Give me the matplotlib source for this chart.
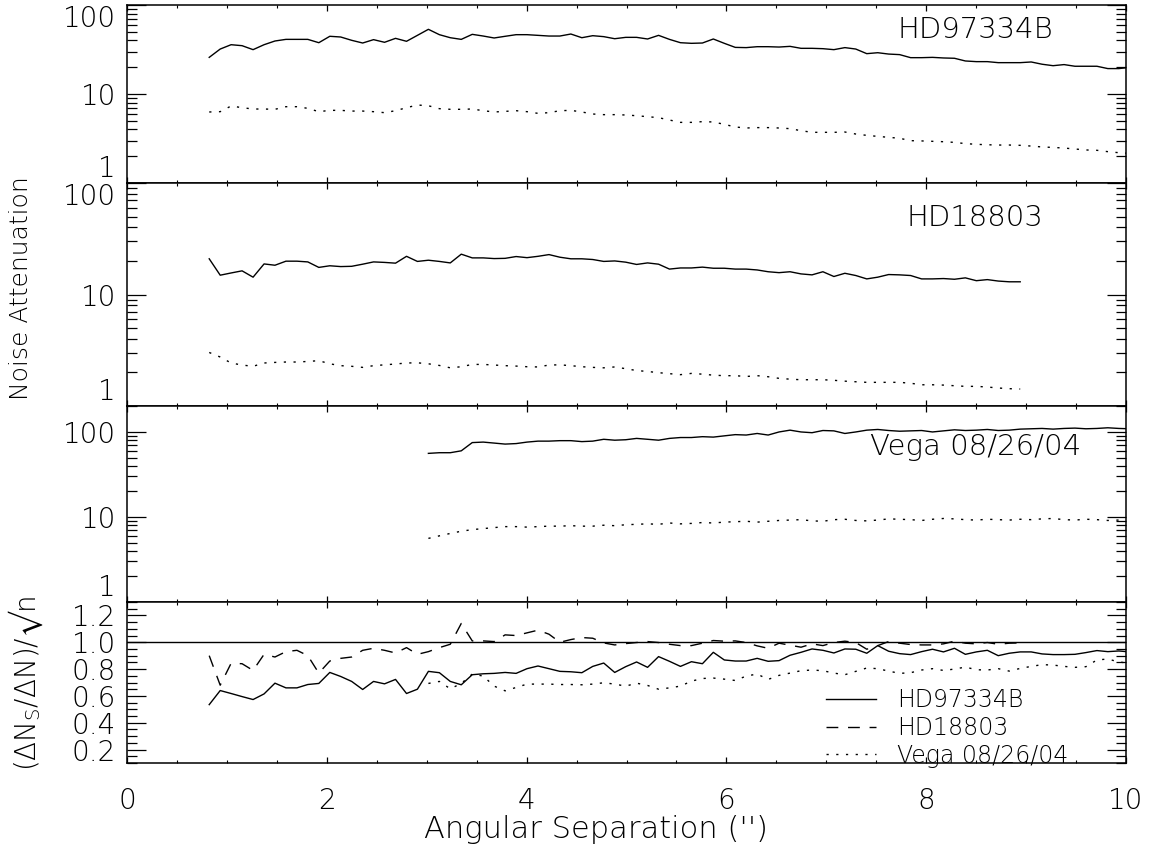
import numpy as np
import matplotlib
matplotlib.use("Agg")
import matplotlib.pyplot as plt
from matplotlib.ticker import FixedLocator, MultipleLocator, LogLocator, NullFormatter

# ---------------- data ----------------
sep_start = 0.823      # first angular separation (arcsec)
sep_step = 0.1097      # sampling step (arcsec)
n_sep = 85
sep = np.round(sep_start + sep_step * np.arange(n_sep), 3)

# HD97334B (85 points)
hd97334b_upper = [25.8, 32.0, 35.8, 34.9, 31.5, 35.8, 39.4, 41.1, 41.1, 41.1,
                  37.7, 44.5, 43.7, 40.1, 37.4, 40.8, 38.1, 42.2, 39.1, 45.6,
                  53.3, 46.4, 42.9, 41.1, 46.8, 44.8, 42.6, 44.5, 46.4, 46.4,
                  45.6, 44.8, 44.8, 47.2, 42.9, 45.2, 44.1, 41.8, 43.3, 43.3,
                  41.5, 45.6, 41.1, 37.7, 37.1, 37.4, 41.5, 37.1, 33.4, 33.2,
                  34.0, 34.0, 33.7, 34.3, 32.6, 32.6, 32.3, 31.5, 33.2, 32.0,
                  28.4, 29.1, 28.1, 27.7, 25.6, 25.6, 25.8, 25.4, 25.2, 23.5,
                  23.1, 23.1, 22.5, 22.5, 22.5, 22.9, 21.6, 20.8, 21.4, 20.5,
                  20.5, 20.5, 19.3, 19.3, 19.9]
hd97334b_lower = [6.28, 6.33, 7.33, 7.02, 6.78, 6.78, 6.73, 7.20, 7.20, 6.90,
                  6.33, 6.55, 6.55, 6.43, 6.43, 6.33, 6.17, 6.49, 7.02, 7.52,
                  7.38, 6.84, 6.73, 6.73, 6.78, 6.49, 6.28, 6.38, 6.49, 6.33,
                  6.06, 6.17, 6.49, 6.55, 6.28, 5.96, 5.86, 5.86, 5.81, 5.70,
                  5.56, 5.42, 5.10, 4.80, 4.80, 4.89, 4.85, 4.56, 4.26, 4.15,
                  4.19, 4.19, 4.15, 4.08, 3.87, 3.71, 3.71, 3.71, 3.74, 3.55,
                  3.43, 3.34, 3.26, 3.18, 2.99, 2.97, 2.94, 2.91, 2.86, 2.77,
                  2.72, 2.69, 2.67, 2.67, 2.65, 2.60, 2.54, 2.51, 2.47, 2.41,
                  2.35, 2.33, 2.25, 2.19, 2.15]

# HD18803 (75 points)
hd18803_upper = [20.9, 14.9, 15.6, 16.3, 14.3, 18.8, 18.3, 19.9, 19.9, 19.6,
                 17.5, 18.1, 17.8, 17.9, 18.7, 19.6, 19.4, 19.1, 22.0, 19.8,
                 20.3, 19.8, 19.2, 23.0, 21.3, 21.3, 21.0, 21.1, 21.9, 21.4,
                 22.0, 22.8, 21.6, 20.9, 20.9, 20.6, 19.8, 20.0, 19.5, 18.6,
                 19.2, 18.7, 16.9, 17.3, 17.3, 17.6, 17.2, 17.2, 16.9, 16.9,
                 16.6, 16.0, 15.7, 16.0, 15.3, 15.0, 16.0, 14.5, 15.5, 14.8,
                 13.8, 14.3, 15.1, 15.0, 14.8, 13.8, 13.8, 13.9, 13.7, 14.1,
                 13.3, 13.6, 13.2, 13.0, 13.0]
hd18803_lower = [3.02, 2.75, 2.43, 2.33, 2.27, 2.43, 2.46, 2.48, 2.48, 2.51,
                 2.55, 2.39, 2.30, 2.27, 2.22, 2.30, 2.34, 2.38, 2.43, 2.44,
                 2.39, 2.31, 2.20, 2.25, 2.36, 2.36, 2.33, 2.30, 2.28, 2.25,
                 2.24, 2.33, 2.34, 2.30, 2.25, 2.22, 2.20, 2.24, 2.16, 2.08,
                 2.04, 1.99, 1.95, 1.91, 1.96, 1.93, 1.89, 1.87, 1.87, 1.84,
                 1.87, 1.83, 1.77, 1.74, 1.72, 1.72, 1.72, 1.70, 1.67, 1.65,
                 1.63, 1.63, 1.63, 1.63, 1.60, 1.55, 1.55, 1.54, 1.52, 1.50,
                 1.50, 1.48, 1.45, 1.43, 1.42]

# Vega 08/26/04 (starts at grid index 20, 65 points)
vega_first = 20
vega_upper = [56, 57, 57, 60, 75, 76, 74, 72, 73, 76,
              78, 78, 79, 79, 77, 78, 82, 80, 81, 84,
              82, 80, 84, 86, 86, 88, 87, 90, 93, 92,
              96, 92, 100, 105, 100, 98, 104, 103, 96, 100,
              105, 107, 104, 102, 103, 104, 100, 103, 106, 104,
              105, 107, 104, 105, 108, 109, 110, 108, 110, 111,
              109, 110, 112, 110, 109]
vega_lower = [5.6, 6.0, 6.4, 6.8, 7.1, 7.3, 7.5, 7.7, 7.7, 7.6,
              7.7, 7.8, 7.8, 7.9, 7.8, 7.8, 8.0, 7.9, 8.1, 8.2,
              8.3, 8.2, 8.5, 8.3, 8.4, 8.6, 8.5, 8.7, 8.8, 8.9,
              8.7, 8.9, 9.1, 9.2, 9.3, 9.0, 8.9, 9.3, 9.4, 9.1,
              9.0, 9.2, 9.5, 9.4, 9.3, 9.1, 9.4, 9.6, 9.5, 9.3,
              9.2, 9.4, 9.3, 9.2, 9.4, 9.3, 9.5, 9.6, 9.3, 9.2,
              9.4, 9.3, 9.1, 9.2, 9.0]

# Noise ratio panel
hd97334b_ratio = [0.535, 0.640, 0.618, 0.595, 0.573, 0.615, 0.695, 0.660, 0.660, 0.685,
                  0.693, 0.775, 0.745, 0.708, 0.648, 0.708, 0.690, 0.723, 0.618, 0.650,
                  0.783, 0.773, 0.708, 0.683, 0.758, 0.765, 0.768, 0.775, 0.768, 0.803,
                  0.823, 0.803, 0.783, 0.780, 0.773, 0.820, 0.845, 0.775, 0.818, 0.853,
                  0.813, 0.893, 0.858, 0.820, 0.855, 0.840, 0.925, 0.868, 0.860, 0.860,
                  0.880, 0.858, 0.863, 0.903, 0.925, 0.950, 0.940, 0.920, 0.950, 0.948,
                  0.918, 0.975, 0.933, 0.915, 0.908, 0.930, 0.948, 0.928, 0.955, 0.910,
                  0.928, 0.940, 0.900, 0.918, 0.928, 0.928, 0.913, 0.908, 0.908, 0.910,
                  0.923, 0.938, 0.930, 0.935, 0.928]
hd18803_ratio = [0.900, 0.680, 0.843, 0.840, 0.790, 0.910, 0.890, 0.930, 0.940, 0.900,
                 0.770, 0.860, 0.880, 0.890, 0.940, 0.955, 0.940, 0.920, 0.960, 0.910,
                 0.930, 0.960, 0.985, 1.140, 1.010, 1.010, 1.005, 1.055, 1.050, 1.070,
                 1.090, 1.060, 1.000, 1.020, 1.035, 1.030, 0.995, 0.980, 0.990, 0.998,
                 1.005, 0.998, 0.985, 0.975, 0.975, 0.993, 1.013, 1.008, 1.010, 0.998,
                 0.973, 0.955, 0.993, 0.978, 0.963, 0.988, 0.975, 0.998, 1.008, 0.998,
                 0.948, 0.975, 1.005, 0.993, 0.983, 0.980, 0.980, 0.988, 1.008, 0.993,
                 0.988, 0.998, 0.985, 0.993, 0.995]
vega_ratio = [0.693, 0.708, 0.653, 0.693, 0.763, 0.748, 0.673, 0.638, 0.663, 0.688,
              0.688, 0.688, 0.685, 0.685, 0.683, 0.688, 0.698, 0.688, 0.673, 0.695,
              0.678, 0.650, 0.660, 0.673, 0.710, 0.730, 0.733, 0.725, 0.715, 0.748,
              0.763, 0.723, 0.753, 0.770, 0.788, 0.793, 0.788, 0.770, 0.758, 0.783,
              0.808, 0.803, 0.785, 0.768, 0.773, 0.793, 0.803, 0.790, 0.800, 0.815,
              0.795, 0.793, 0.803, 0.785, 0.805, 0.820, 0.833, 0.830, 0.820, 0.813,
              0.818, 0.868, 0.875, 0.853, 0.843]

panel_names = ["HD97334B", "HD18803", "Vega 08/26/04"]
log_ylims = [(1, 100), (1, 100), (1, 202)]
log_ticks = [1, 10, 100]
log_ticklabels = ["1", "10", "100"]
ratio_ticks = [0.2, 0.4, 0.6, 0.8, 1.0, 1.2]
x_ticks = [0, 2, 4, 6, 8, 10]

# ---------------- style ----------------
FONT = ["DejaVu Sans"]
plt.rcParams["font.family"] = FONT
plt.rcParams["font.weight"] = "light"
plt.rcParams["mathtext.fontset"] = "dejavusans"

W, H = 1151, 857
fig = plt.figure(figsize=(W / 100, H / 100), dpi=100)
left_px, right_px = 127, 1126
edges_px = [5, 183, 406, 602, 763]

axes = []
for k in range(4):
    top = 1 - edges_px[k] / H
    bot = 1 - edges_px[k + 1] / H
    ax = fig.add_axes([left_px / W, bot, (right_px - left_px) / W, top - bot])
    axes.append(ax)

LW = 1.0
DOT = (0, (1.6, 5.4))
DASH = (0, (8.5, 7.0))

upper_sets = [(sep, hd97334b_upper), (sep[:len(hd18803_upper)], hd18803_upper),
              (sep[vega_first:vega_first + len(vega_upper)], vega_upper)]
lower_sets = [(sep, hd97334b_lower), (sep[:len(hd18803_lower)], hd18803_lower),
              (sep[vega_first:vega_first + len(vega_lower)], vega_lower)]

for k in range(3):
    ax = axes[k]
    ax.plot(upper_sets[k][0], upper_sets[k][1], color="black", lw=LW)
    ax.plot(lower_sets[k][0], lower_sets[k][1], color="black", lw=LW, linestyle=DOT)
    ax.set_yscale("log")
    ax.set_ylim(*log_ylims[k])
    ax.yaxis.set_major_locator(FixedLocator(log_ticks))
    ax.yaxis.set_minor_locator(LogLocator(base=10, subs=np.arange(2, 10)))
    ax.yaxis.set_minor_formatter(NullFormatter())
    ax.set_yticklabels(log_ticklabels)
    labs = ax.get_yticklabels()
    labs[0].set_va("bottom")
    if log_ylims[k][1] <= 100:
        labs[-1].set_va("top")
    ax.text(0.849, [0.857, 0.845, 0.791][k], panel_names[k], transform=ax.transAxes,
            ha="center", va="center", fontsize=21, fontweight="light")

ax4 = axes[3]
l1, = ax4.plot(sep[:len(hd97334b_ratio)], hd97334b_ratio, color="black", lw=LW, label="HD97334B")
l2, = ax4.plot(sep[:len(hd18803_ratio)], hd18803_ratio, color="black", lw=LW, linestyle=DASH, label="HD18803")
l3, = ax4.plot(sep[vega_first:vega_first + len(vega_ratio)], vega_ratio, color="black", lw=LW,
               linestyle=DOT, label="Vega 08/26/04")
ax4.axhline(1.0, color="black", lw=LW)
ax4.set_ylim(0.1, 1.3)
ax4.yaxis.set_major_locator(FixedLocator(ratio_ticks))
ax4.yaxis.set_minor_locator(MultipleLocator(0.05))
ax4.set_yticklabels(["%.1f" % t for t in ratio_ticks])

leg = ax4.legend(handles=[l1, l2, l3], loc="upper left", bbox_to_anchor=(0.700, 0.465),
                 frameon=False, fontsize=17, handlelength=2.1, handletextpad=0.9,
                 labelspacing=0.16, borderpad=0, borderaxespad=0)

for k, ax in enumerate(axes):
    ax.set_xlim(0, 10)
    ax.xaxis.set_major_locator(FixedLocator(x_ticks))
    ax.xaxis.set_minor_locator(MultipleLocator(0.5))
    ax.tick_params(axis="x", which="major", direction="in", top=True, bottom=True,
                   length=4, width=0.9, labelsize=20, pad=17)
    ax.tick_params(axis="x", which="minor", direction="in", top=True, bottom=True,
                   length=2.2, width=0.8)
    ax.tick_params(axis="y", which="major", direction="in", left=True, right=True,
                   length=14, width=0.9, labelsize=20, pad=8)
    ax.tick_params(axis="y", which="minor", direction="in", left=True, right=True,
                   length=7, width=0.9)
    if k < 3:
        ax.tick_params(axis="x", labelbottom=False)
    for s in ax.spines.values():
        s.set_linewidth(1.1)

fig.text(21 / W, 1 - 288.5 / H, "Noise Attenuation", rotation=90, ha="center", va="center",
         fontsize=18, fontweight="light")
fig.text(26 / W, 1 - 683.5 / H, "(ΔN$_\\mathregular{S}$/ΔN)/$√$n", rotation=90, ha="center",
         va="center", fontsize=20, fontweight="light")
fig.text(596 / W, 1 - 830 / H, "Angular Separation ('')", ha="center", va="center",
         fontsize=22, fontweight="light")

fig.savefig("out.png", dpi=100)
